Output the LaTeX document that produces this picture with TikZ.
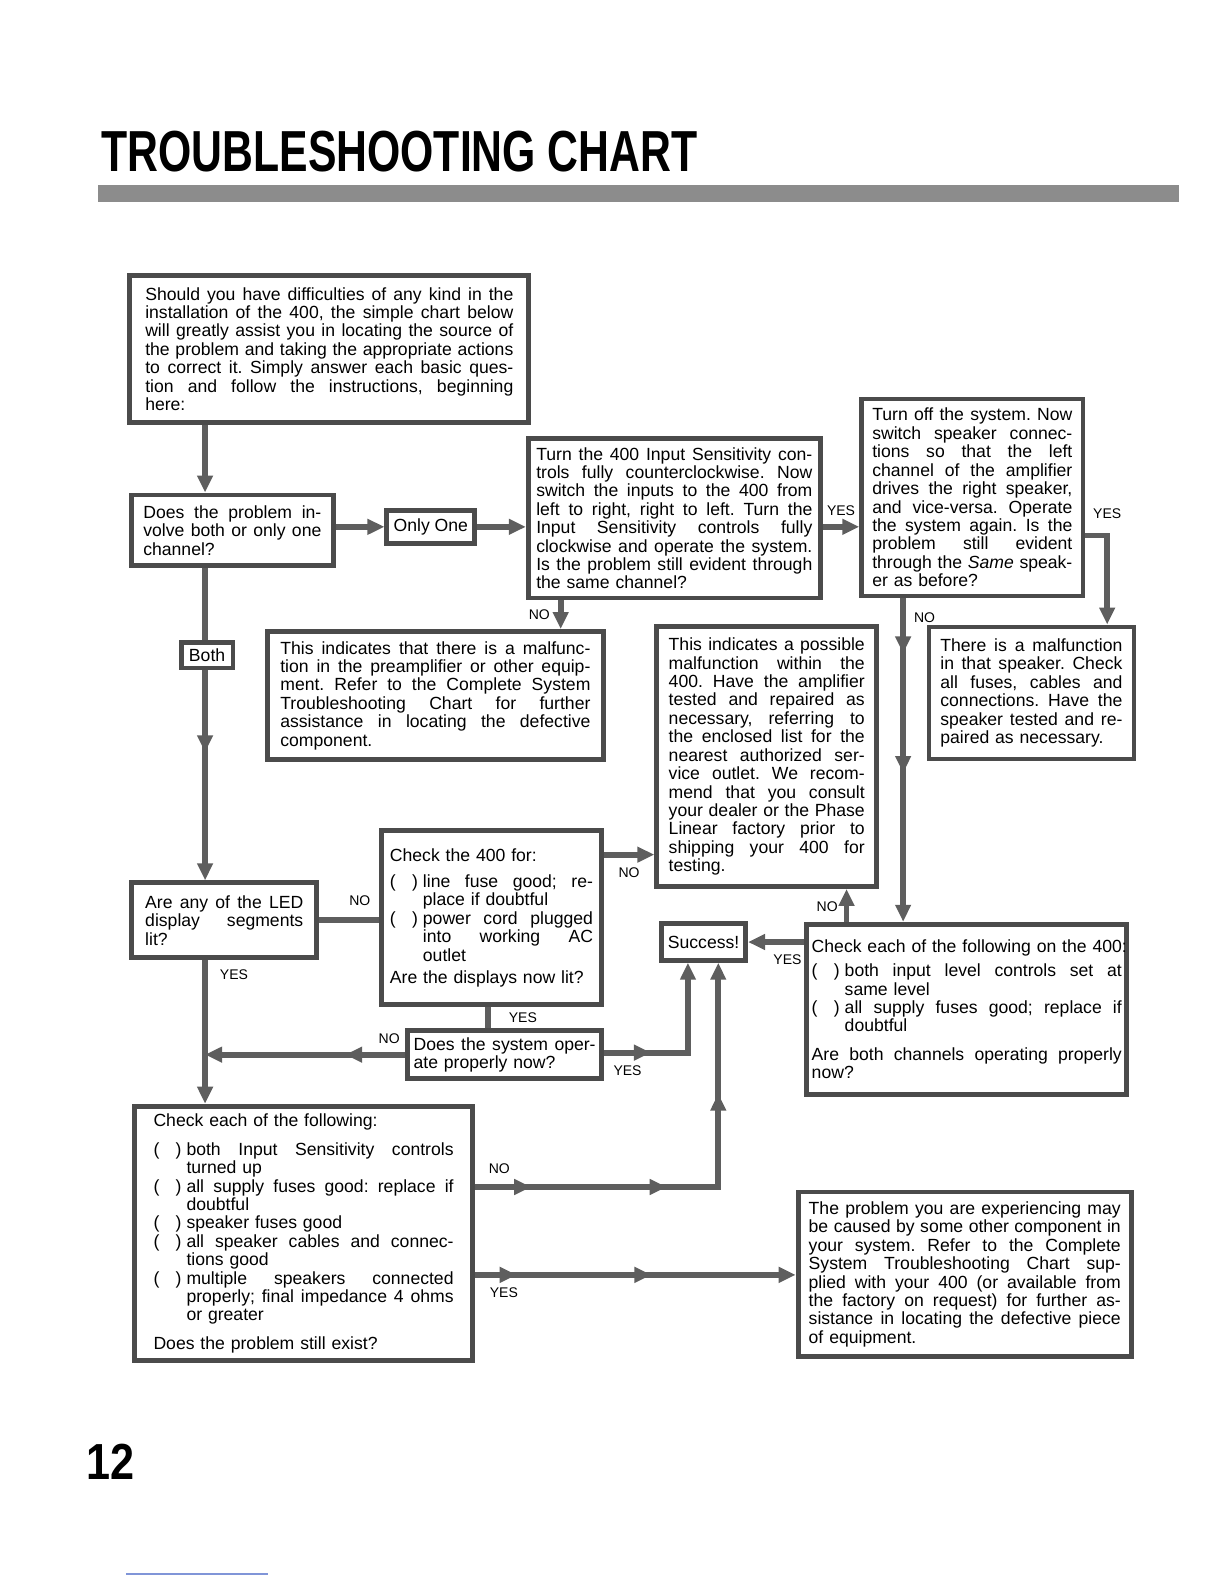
\documentclass[tikz,border=0pt]{standalone}
\usepackage{fontspec}
\setmainfont{Liberation Sans}
\usepackage{graphicx}
\usepackage{tikz}
\usetikzlibrary{arrows.meta,decorations.markings}
\definecolor{tsframe}{HTML}{4B4B4B}
\definecolor{tsflow}{HTML}{5E5E5E}
\definecolor{tsbar}{HTML}{8C8C8C}
\definecolor{tsrule}{HTML}{8095D8}
\newlength{\chkw}\setlength{\chkw}{16.5pt}
\newcommand{\tsgap}{\spaceskip=.28em plus 1em minus .04em\relax}
\newcommand{\jl}[1]{\hbox to\linewidth{\tsgap #1}}
\newcommand{\el}[1]{\hbox to\linewidth{#1\hfil}}
\newcommand{\ck}[1]{\hbox to\linewidth{\tsgap\hbox to\chkw{(\hfil)\hskip2.5pt}#1}}
\newcommand{\cke}[1]{\hbox to\linewidth{\hbox to\chkw{(\hfil)\hskip2.5pt}#1\hfil}}
\newcommand{\ckj}[1]{\hbox to\linewidth{\tsgap\hskip\chkw\relax #1}}
\newcommand{\ckl}[1]{\hbox to\linewidth{\hskip\chkw\relax #1\hfil}}

\begin{document}
\begin{tikzpicture}[x=0.50495pt, y=-0.50495pt,
  box/.style={draw=tsframe, line width=2.4pt, fill=white, inner sep=0pt,
    font=\fontsize{8.8}{9.2}\selectfont\frenchspacing},
  lbl/.style={font=\fontsize{7}{8}\selectfont, inner sep=1pt},
  flow/.style={draw=tsflow, line width=2.9pt},
  >={Triangle[width=7.5pt,length=8.5pt]},
  mid/.style={postaction={decorate, decoration={markings,
    mark=at position #1 with {\arrow{>}}}}}]
\useasboundingbox (0,0) rectangle (1212,1568);
\node[anchor=west, inner sep=0pt] (title) at (100,150)
  {\resizebox{298pt}{20.2pt}{\bfseries TROUBLESHOOTING CHART}};
\fill[tsbar] (97,183) rectangle (1167,200);

\node[box, minimum width=199.5pt, minimum height=73.7pt, text width=184pt] (intro) at (326,345.5) {%
\jl{Should you have difficulties of any kind in the}
\jl{installation of the 400, the simple chart below}
\jl{will greatly assist you in locating the source of}
\jl{the problem and taking the appropriate actions}
\jl{to correct it. Simply answer each basic ques-}
\jl{tion and follow the instructions, beginning}
\el{here:}};
\node[box, minimum width=101pt, minimum height=35.4pt, text width=89pt] (does) at (230,525) {%
\jl{Does the problem in-}
\jl{volve both or only one}
\el{channel?}};
\node[box, minimum width=44pt, minimum height=16.7pt] (only) at (426.5,521.5) {Only One};
\node[box, minimum width=146pt, minimum height=79.8pt, text width=138pt] (turn) at (667.5,513) {%
\jl{Turn the 400 Input Sensitivity con-}
\jl{trols fully counterclockwise. Now}
\jl{switch the inputs to the 400 from}
\jl{left to right, right to left. Turn the}
\jl{Input Sensitivity controls fully}
\jl{clockwise and operate the system.}
\jl{Is the problem still evident through}
\el{the same channel?}};
\node[box, minimum width=110.6pt, minimum height=98.5pt, text width=100pt] (off) at (962.5,492.5) {%
\jl{Turn off the system. Now}
\jl{switch speaker connec-}
\jl{tions so that the left}
\jl{channel of the amplifier}
\jl{drives the right speaker,}
\jl{and vice-versa. Operate}
\jl{the system again. Is the}
\jl{problem still evident}
\jl{through the \textit{Same} speak-}
\el{er as before?}};
\node[box, minimum width=167.7pt, minimum height=64.1pt, text width=155pt] (preamp) at (431,688.5) {%
\jl{This indicates that there is a malfunc-}
\jl{tion in the preamplifier or other equip-}
\jl{ment. Refer to the Complete System}
\jl{Troubleshooting Chart for further}
\jl{assistance in locating the defective}
\el{component.}};
\node[box, minimum width=110pt, minimum height=129.8pt, text width=98pt] (poss) at (759,749) {%
\jl{This indicates a possible}
\jl{malfunction within the}
\jl{400. Have the amplifier}
\jl{tested and repaired as}
\jl{necessary, referring to}
\jl{the enclosed list for the}
\jl{nearest authorized ser-}
\jl{vice outlet. We recom-}
\jl{mend that you consult}
\jl{your dealer or the Phase}
\jl{Linear factory prior to}
\jl{shipping your 400 for}
\el{testing.}};
\node[box, minimum width=102.5pt, minimum height=66pt, text width=91pt] (spk) at (1021,686) {%
\jl{There is a malfunction}
\jl{in that speaker. Check}
\jl{all fuses, cables and}
\jl{connections. Have the}
\jl{speaker tested and re-}
\el{paired as necessary.}};
\node[box, minimum width=110pt, minimum height=87pt, text width=101.5pt] (chkfor) at (486.5,908.5) {%
\el{Check the 400 for:}\vskip4pt
\ck{line fuse good; re-}
\ckl{place if doubtful}
\ck{power cord plugged}
\ckj{into working AC}
\ckl{outlet}\vskip2pt
\el{Are the displays now lit?}};
\node[box, minimum width=92.4pt, minimum height=37.5pt, text width=79pt] (led) at (222,911) {%
\jl{Are any of the LED}
\jl{display segments}
\el{lit?}};
\node[box, minimum width=42pt, minimum height=18.3pt] (succ) at (696.5,932.5) {Success!};
\node[box, minimum width=160pt, minimum height=85pt, text width=155pt] (chkon) at (957,999) {%
\el{Check each of the following on the 400:}\vskip3pt
\ck{both input level controls set at}
\ckl{same level}
\ck{all supply fuses good; replace if}
\ckl{doubtful}\vskip5pt
\jl{Are both channels operating properly}
\el{now?}};
\node[box, minimum width=97pt, minimum height=24.2pt, text width=91pt] (opr) at (499.5,1044) {%
\jl{Does the system oper-}
\el{ate properly now?}};
\node[box, minimum width=169pt, minimum height=127.3pt, text width=150pt] (chkeach) at (300.5,1221) {%
\el{Check each of the following:}\vskip5pt
\ck{both Input Sensitivity controls}
\ckl{turned up}
\ck{all supply fuses good: replace if}
\ckl{doubtful}
\cke{speaker fuses good}
\ck{all speaker cables and connec-}
\ckl{tions good}
\ck{multiple speakers connected}
\ckj{properly; final impedance 4 ohms}
\ckl{or greater}\vskip5pt
\el{Does the problem still exist?}};
\node[box, minimum width=166.6pt, minimum height=82.3pt, text width=156pt] (other) at (955,1261.5) {%
\jl{The problem you are experiencing may}
\jl{be caused by some other component in}
\jl{your system. Refer to the Complete}
\jl{System Troubleshooting Chart sup-}
\jl{plied with your 400 (or available from}
\jl{the factory on request) for further as-}
\jl{sistance in locating the defective piece}
\el{of equipment.}};

\coordinate (trunk) at (203,0);
\coordinate (nodown) at (555,0);
\coordinate (yesright) at (1096,530);
\coordinate (nofall) at (894,0);
\coordinate (noup) at (838,0);
\coordinate (litno) at (0,911);
\coordinate (forno) at (0,846);
\coordinate (foryes) at (483,0);
\coordinate (oprup) at (681,1042);
\coordinate (chkno) at (711,1175);
\coordinate (chkyes) at (0,1262);

\draw[flow,->] (intro.south -| trunk) -- (does.north -| trunk);
\draw[flow,->] (does.east |- only) -- (only.west);
\draw[flow,->] (only.east) -- (only.east -| turn.west);
\draw[flow,->] (turn.east |- only) -- node[lbl, above=3pt] (yes1) {YES} (off.west |- only);
\draw[flow,->] (turn.south -| nodown) -- node[lbl, left=3pt] (no1) {NO} (preamp.north -| nodown);
\draw[flow,->,mid=0.59] (does.south -| trunk) -- (led.north -| trunk);
\node[box, minimum width=25.8pt, minimum height=12.8pt] (both) at (205,648.5) {Both};
\draw[flow,->] (off.east |- yesright) -| node[lbl, above=6pt] (yes2) {YES} (spk.north -| yesright);
\draw[flow,->,mid=0.17,mid=0.54] (off.south -| nofall)
  -- node[lbl, right=3pt, pos=0.06] (no2) {NO} (chkon.north -| nofall);
\draw[flow,->] (chkon.north -| noup) -- node[lbl, left=2pt, pos=0.45] (no3) {NO} (poss.south -| noup);
\draw[flow,->] (chkon.west |- succ) -- node[lbl, below=4pt, pos=0.3] (yes3) {YES} (succ.east);
\draw[flow] (led.east |- litno) -- node[lbl, above=5pt, pos=0.68] (no4) {NO} (chkfor.west |- litno);
\draw[flow,->] (chkfor.east |- forno) -- node[lbl, below=4pt] (no5) {NO} (poss.west |- forno);
\draw[flow] (chkfor.south -| foryes) -- node[lbl, right=8pt] (yes4) {YES} (opr.north -| foryes);
\draw[flow,->,mid=0.3] (opr.west) -- node[lbl, above=3pt, pos=0.08] (no6) {NO} (opr.west -| trunk);
\draw[flow,->] (led.south -| trunk) -- node[lbl, right=5pt, pos=0.1] (yes5) {YES} (chkeach.north -| trunk);
\draw[flow,->,mid=0.27] (opr.east |- oprup) -| node[lbl, below=4pt, pos=0.14] (yes6) {YES} (succ.south -| oprup);
\draw[flow,->,mid=0.12,mid=0.41,mid=0.72] (chkeach.east |- chkno) -| node[lbl, above=4pt, pos=0.05] (no7) {NO} (succ.south -| chkno);
\draw[flow,->,mid=0.13,mid=0.55] (chkeach.east |- chkyes) -- node[lbl, below=4pt, pos=0.09] (yes7) {YES} (other.west |- chkyes);

\node[anchor=west, inner sep=0pt] (pagenum) at (85,1447.5) {\resizebox{24pt}{17.7pt}{\bfseries 12}};
\draw[tsrule, line width=0.6pt] (125,1558) -- (265,1558);
\end{tikzpicture}
\end{document}
